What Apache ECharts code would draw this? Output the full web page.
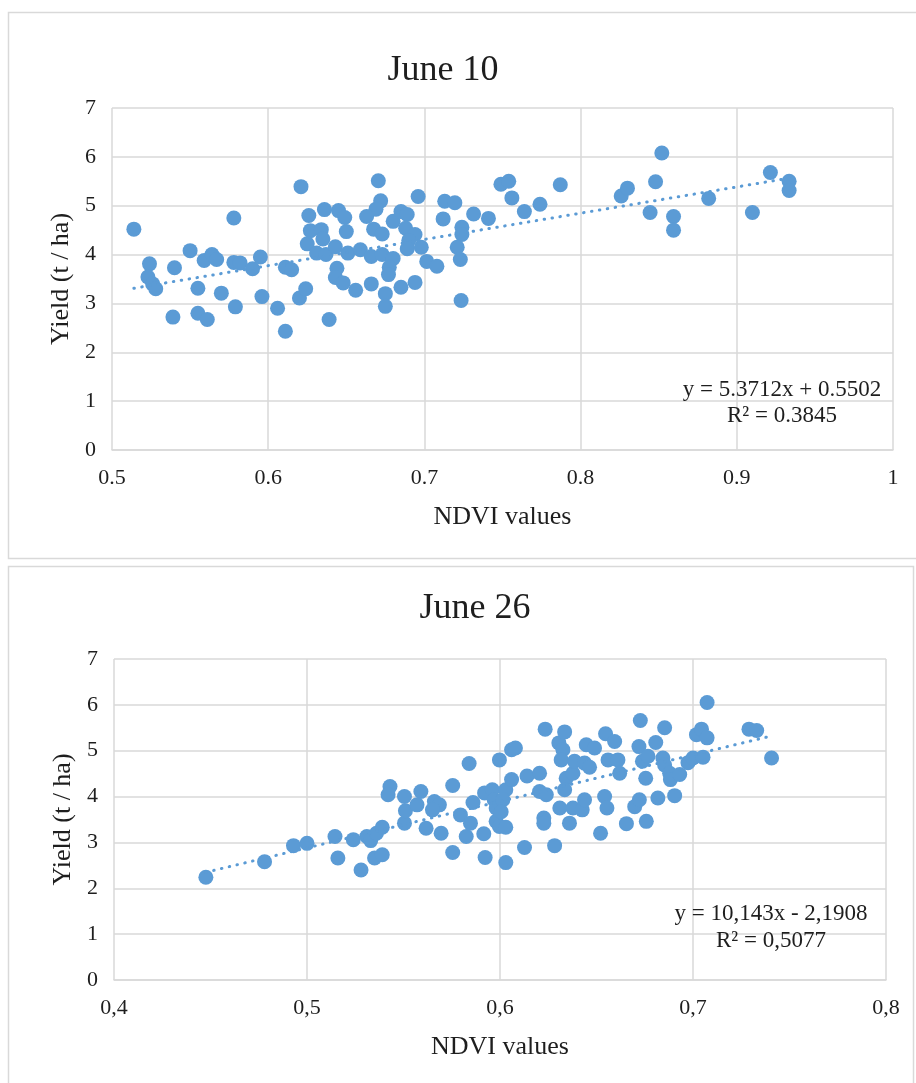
<!DOCTYPE html>
<html>
<head>
<meta charset="utf-8">
<script src="https://cdn.jsdelivr.net/npm/echarts@6/dist/echarts.min.js"></script>
<style>
html,body{margin:0;padding:0;background:#fff;}
#c{width:916px;height:1083px;}
</style>
</head>
<body>
<div id="c"></div>
<script>
// ---- June 10 data ----
const june10Ndvi = [0.514,0.524,0.523,0.526,0.528,0.540,0.539,0.550,0.555,0.555,0.561,0.559,0.564,0.567,0.570,0.578,0.578,0.582,0.579,0.590,0.595,0.596,0.606,0.611,0.611,0.615,0.620,0.624,0.621,0.639,0.626,0.636,0.645,0.649,0.650,0.627,0.634,0.635,0.625,0.631,0.637,0.643,0.651,0.644,0.643,0.648,0.656,0.659,0.6705,0.672,0.669,0.663,0.6675,0.673,0.680,0.685,0.689,0.688,0.694,0.690,0.689,0.698,0.696,0.666,0.673,0.680,0.6775,0.677,0.666,0.675,0.675,0.685,0.694,0.7015,0.708,0.713,0.7195,0.712,0.724,0.724,0.721,0.723,0.7235,0.7315,0.741,0.749,0.754,0.756,0.764,0.774,0.787,0.826,0.830,0.848,0.852,0.8445,0.8595,0.8595,0.882,0.910,0.9215,0.9335,0.9335];
const june10Yield = [4.52,3.81,3.54,3.40,3.30,3.73,2.72,4.08,3.31,2.80,2.67,3.88,4.00,3.90,3.21,4.75,3.84,3.83,2.93,3.71,3.95,3.14,2.90,2.43,3.74,3.69,3.11,3.30,5.39,2.67,4.80,4.92,4.90,4.76,4.47,4.49,4.51,4.32,4.22,4.03,4.00,4.16,4.03,3.72,3.53,3.42,3.27,4.10,5.51,5.10,4.93,4.78,4.52,4.42,4.68,4.88,4.82,4.54,4.41,4.29,4.12,4.15,5.19,3.96,4.00,3.92,3.74,3.59,3.40,3.20,2.94,3.33,3.43,3.86,3.76,5.09,5.06,4.73,4.56,4.41,4.15,3.90,3.06,4.83,4.74,5.44,5.50,5.16,4.88,5.03,5.43,5.20,5.36,5.49,6.08,4.86,4.78,4.50,5.15,4.86,5.68,5.50,5.31];
const june10Trend = [5.3712, 0.5502]; // slope, intercept
const june10Eq = ['y = 5.3712x + 0.5502', 'R² = 0.3845'];
const june10XTicks = ['0.5','0.6','0.7','0.8','0.9','1'];

// ---- June 26 data ----
const june26Ndvi = [0.4476,0.478,0.493,0.500,0.5145,0.516,0.524,0.528,0.531,0.533,0.536,0.539,0.535,0.539,0.543,0.542,0.5505,0.5505,0.551,0.559,0.557,0.5617,0.566,0.5686,0.565,0.5695,0.5755,0.5755,0.5795,0.5825,0.5847,0.584,0.586,0.592,0.5916,0.5923,0.596,0.597,0.598,0.598,0.5997,0.5997,0.603,0.603,0.606,0.608,0.603,0.606,0.6015,0.6006,0.6127,0.614,0.6205,0.6205,0.6227,0.6227,0.6234,0.6283,0.624,0.6305,0.6335,0.6326,0.6317,0.6343,0.6335,0.631,0.636,0.6378,0.6386,0.6378,0.6426,0.6438,0.6447,0.649,0.6438,0.6464,0.6521,0.6542,0.6554,0.6547,0.6594,0.656,0.6611,0.662,0.6655,0.6698,0.6727,0.672,0.6738,0.6755,0.6758,0.6722,0.6807,0.6818,0.6767,0.6853,0.6844,0.6853,0.6905,0.6879,0.6883,0.6931,0.6974,0.700,0.7018,0.7044,0.7073,0.7073,0.7052,0.729,0.733,0.7407];
const june26Yield = [2.24,2.58,2.93,2.98,3.13,2.66,3.06,2.40,3.13,3.04,3.20,3.33,2.66,2.73,4.22,4.04,4.00,3.42,3.69,4.11,3.82,3.31,3.89,3.82,3.71,3.20,4.24,2.78,3.60,3.13,3.42,4.72,3.87,4.08,3.19,2.67,4.15,3.93,3.75,3.46,4.80,3.35,3.33,2.56,5.02,5.06,4.15,4.37,3.93,3.67,2.89,4.45,4.51,4.11,3.53,3.42,5.47,2.93,4.04,5.17,5.41,5.02,4.80,4.40,4.15,3.75,3.42,4.51,4.77,3.75,3.71,3.93,5.13,5.06,4.73,4.64,3.20,4.00,3.75,5.37,5.20,4.80,4.80,4.51,3.41,3.78,5.66,5.09,4.77,4.40,3.46,3.93,5.18,3.97,4.88,5.50,4.84,4.69,4.02,4.51,4.37,4.48,4.74,4.84,5.35,5.47,5.28,6.05,4.86,5.47,5.44,4.84];
const june26Trend = [10.143, -2.1908];
const june26Eq = ['y = 10,143x - 2,1908', 'R² = 0,5077'];

const yTicks = ['0','1','2','3','4','5','6','7'];

const BLUE = '#5B9BD5';
const GRID = '#d9d9d9';
const TXT = '#1e1e1e';
const FONT = '"Liberation Serif", "DejaVu Serif", serif';

function pairs(xs, ys){ return xs.map((x,i)=>[x, ys[i]]); }
function trend(xs, coef){
  const mn = Math.min(...xs), mx = Math.max(...xs);
  return [[mn, coef[0]*mn+coef[1]], [mx, coef[0]*mx+coef[1]]];
}

function xAxis(gi, min, max, fmt){
  return {
    type:'value', gridIndex:gi, min:min, max:max, interval:0.1,
    name:'NDVI values', nameLocation:'middle', nameGap:54,
    nameTextStyle:{fontFamily:FONT, fontSize:26, color:TXT},
    axisLine:{show:true, lineStyle:{color:GRID, width:1.5}},
    axisTick:{show:false},
    axisLabel:{fontFamily:FONT, fontSize:22, color:TXT, margin:17, formatter:fmt},
    splitLine:{show:true, lineStyle:{color:GRID, width:1.5}}
  };
}
function yAxis(gi){
  return {
    type:'value', gridIndex:gi, min:0, max:7, interval:1,
    name:'Yield (t / ha)', nameLocation:'middle', nameGap:37,
    nameTextStyle:{fontFamily:FONT, fontSize:26, color:TXT},
    axisLine:{show:false},
    axisTick:{show:false},
    axisLabel:{fontFamily:FONT, fontSize:22, color:TXT, margin:16, formatter:(v)=>yTicks[Math.round(v)]},
    splitLine:{show:true, lineStyle:{color:GRID, width:1.5}}
  };
}

const chart = echarts.init(document.getElementById('c'), null, {renderer:'canvas'});
chart.setOption({
  animation:false,
  backgroundColor:'#fff',
  title:[
    {text:'June 10', left:438, top:48, textAlign:'center', textStyle:{fontFamily:FONT, fontSize:36, fontWeight:'normal', color:TXT}},
    {text:'June 26', left:470, top:586, textAlign:'center', textStyle:{fontFamily:FONT, fontSize:36, fontWeight:'normal', color:TXT}}
  ],
  grid:[
    {left:112, top:108, width:781, height:342},
    {left:114, top:659, width:772, height:321}
  ],
  xAxis:[
    xAxis(0, 0.5, 1.0, (v)=>june10XTicks[Math.round((v-0.5)*10)]),
    xAxis(1, 0.4, 0.8, (v)=>v.toFixed(1).replace('.', ','))
  ],
  yAxis:[yAxis(0), yAxis(1)],
  graphic:[
    {type:'rect', z:-10, shape:{x:8.5, y:12.5, width:920, height:546}, style:{fill:'none', stroke:'#d9d9d9', lineWidth:1.5}},
    {type:'rect', z:-10, shape:{x:8.5, y:566.5, width:905, height:530}, style:{fill:'none', stroke:'#d9d9d9', lineWidth:1.5}},
    {type:'text', z:100, x:782, y:390, style:{text:june10Eq[0], font:'23px '+FONT, fill:TXT, textAlign:'center', textVerticalAlign:'middle'}},
    {type:'text', z:100, x:782, y:416, style:{text:june10Eq[1], font:'23px '+FONT, fill:TXT, textAlign:'center', textVerticalAlign:'middle'}},
    {type:'text', z:100, x:771, y:914, style:{text:june26Eq[0], font:'23px '+FONT, fill:TXT, textAlign:'center', textVerticalAlign:'middle'}},
    {type:'text', z:100, x:771, y:941, style:{text:june26Eq[1], font:'23px '+FONT, fill:TXT, textAlign:'center', textVerticalAlign:'middle'}}
  ],
  series:[
    {type:'scatter', xAxisIndex:0, yAxisIndex:0, data:pairs(june10Ndvi, june10Yield), symbolSize:15, itemStyle:{color:BLUE, opacity:1}},
    {type:'line', xAxisIndex:0, yAxisIndex:0, data:trend(june10Ndvi, june10Trend), symbol:'none', z:5, lineStyle:{color:BLUE, width:3, type:[0.5,7.5], cap:'round'}},
    {type:'scatter', xAxisIndex:1, yAxisIndex:1, data:pairs(june26Ndvi, june26Yield), symbolSize:15, itemStyle:{color:BLUE, opacity:1}},
    {type:'line', xAxisIndex:1, yAxisIndex:1, data:trend(june26Ndvi, june26Trend), symbol:'none', z:5, lineStyle:{color:BLUE, width:3, type:[0.5,7.5], cap:'round'}}
  ]
});
</script>
</body>
</html>
